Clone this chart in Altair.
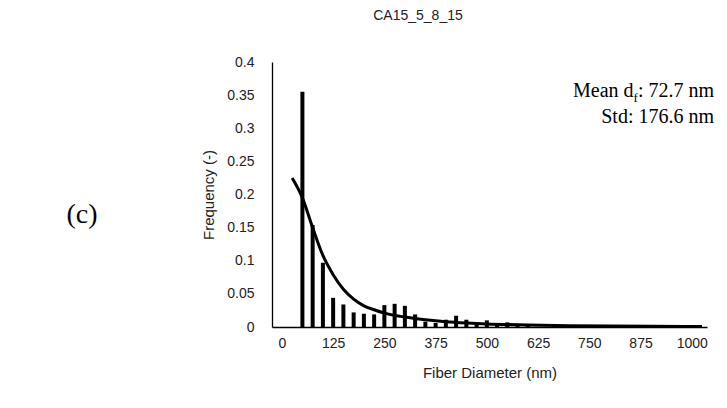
import altair as alt
import pandas as pd

# Histogram bins (nm) and frequencies
bin_centers = [50, 75, 100, 125, 150, 175, 200, 225, 250, 275, 300, 325, 350, 375,
               400, 425, 450, 475, 500, 525, 550, 575, 600]
frequencies = [0.355, 0.154, 0.097, 0.044, 0.034, 0.022, 0.020, 0.019, 0.033, 0.035,
               0.032, 0.019, 0.008, 0.006, 0.011, 0.017, 0.011, 0.004, 0.010, 0.006,
               0.007, 0.004, 0.002]

# Fitted distribution curve
curve_x = [25, 50, 75, 100, 125, 150, 175, 200, 225, 250, 300, 350, 400, 450, 500,
           600, 700, 800, 900, 1000, 1025]
curve_y = [0.225, 0.195, 0.150, 0.108, 0.079, 0.057, 0.042, 0.032, 0.026, 0.021,
           0.015, 0.011, 0.008, 0.006, 0.0045, 0.003, 0.002, 0.0015, 0.0011, 0.0008,
           0.0007]

x_ticks = [0, 125, 250, 375, 500, 625, 750, 875, 1000]
y_ticks = [0, 0.05, 0.1, 0.15, 0.2, 0.25, 0.3, 0.35, 0.4]

title_text = "CA15_5_8_15"
panel_label = "(c)"
mean_prefix = "Mean d"
mean_sub = "f"
mean_suffix = ": 72.7 nm"
std_text = "Std: 176.6 nm"

bars_df = pd.DataFrame({"d": bin_centers, "f": frequencies})
curve_df = pd.DataFrame({"d": curve_x, "f": curve_y})
one = pd.DataFrame({"k": [0]})

W, H = 435, 265

x_scale = alt.Scale(domain=[-12, 1025], nice=False, zero=False)
y_scale = alt.Scale(domain=[0, 0.4], nice=False)

x_axis = alt.Axis(title="Fiber Diameter (nm)", values=x_ticks, format="d", grid=False,
                  ticks=False, tickSize=0, labelPadding=9, labelOverlap=False,
                  domainColor="#000", domainWidth=1.3,
                  labelFont="Liberation Sans", labelFontSize=14, labelColor="#222",
                  titleFont="Liberation Sans", titleFontSize=15, titleFontWeight="normal",
                  titleColor="#222", titleBaseline="middle", titleY=45)
y_axis = alt.Axis(title="Frequency (-)", values=y_ticks, format="~g", grid=False,
                  ticks=False, tickSize=0, labelPadding=18, labelOverlap=False,
                  labelSeparation=0, tickCount=9,
                  domainColor="#000", domainWidth=1.3,
                  labelFont="Liberation Sans", labelFontSize=14,
                  labelColor="#222", titleFont="Liberation Sans", titleFontSize=15,
                  titleFontWeight="normal", titleColor="#222", titleAngle=-90,
                  titleBaseline="middle", titleX=-64, titleY=H / 2, titleAlign="center")

bars = alt.Chart(bars_df).mark_bar(color="black", size=4).encode(
    x=alt.X("d:Q", scale=x_scale, axis=x_axis),
    y=alt.Y("f:Q", scale=y_scale, axis=y_axis),
)

curve = alt.Chart(curve_df).mark_line(color="black", strokeWidth=3,
                                      interpolate="monotone").encode(
    x=alt.X("d:Q", scale=x_scale, axis=x_axis),
    y=alt.Y("f:Q", scale=y_scale, axis=y_axis),
)

serif = "Liberation Serif"
fs = 20
w_suffix = 3.806 * fs
w_sub = 0.333 * 13
RX = W + 7

def txt(text, x, y, size, font, align="center", baseline="alphabetic", color="black"):
    return alt.Chart(one).mark_text(text=text, fontSize=size, font=font, align=align,
                                    baseline=baseline, color=color).encode(
        x=alt.value(x), y=alt.value(y))

t_title = txt(title_text, 146, -46, 14, "Liberation Sans", baseline="middle", color="#222")
t_panel = txt(panel_label, -190, 161, 28, serif)
t_m3 = txt(mean_suffix, RX, 35, fs, serif, align="right")
t_m2 = txt(mean_sub, RX - w_suffix, 40, 13, serif, align="right")
t_m1 = txt(mean_prefix, RX - w_suffix - w_sub, 35, fs, serif, align="right")
t_std = txt(std_text, RX, 61, fs, serif, align="right")

chart = alt.layer(bars, curve, t_title, t_panel, t_m1, t_m2, t_m3, t_std).properties(
    width=W, height=H,
    autosize=alt.AutoSizeParams(type="none"),
    padding={"left": 264, "top": 54, "right": 10, "bottom": 65},
    background="white",
).configure_view(stroke=None).configure_axisY(labelOverlap=False)

chart.save("out.html", embed_options={"renderer": "svg", "actions": False})
